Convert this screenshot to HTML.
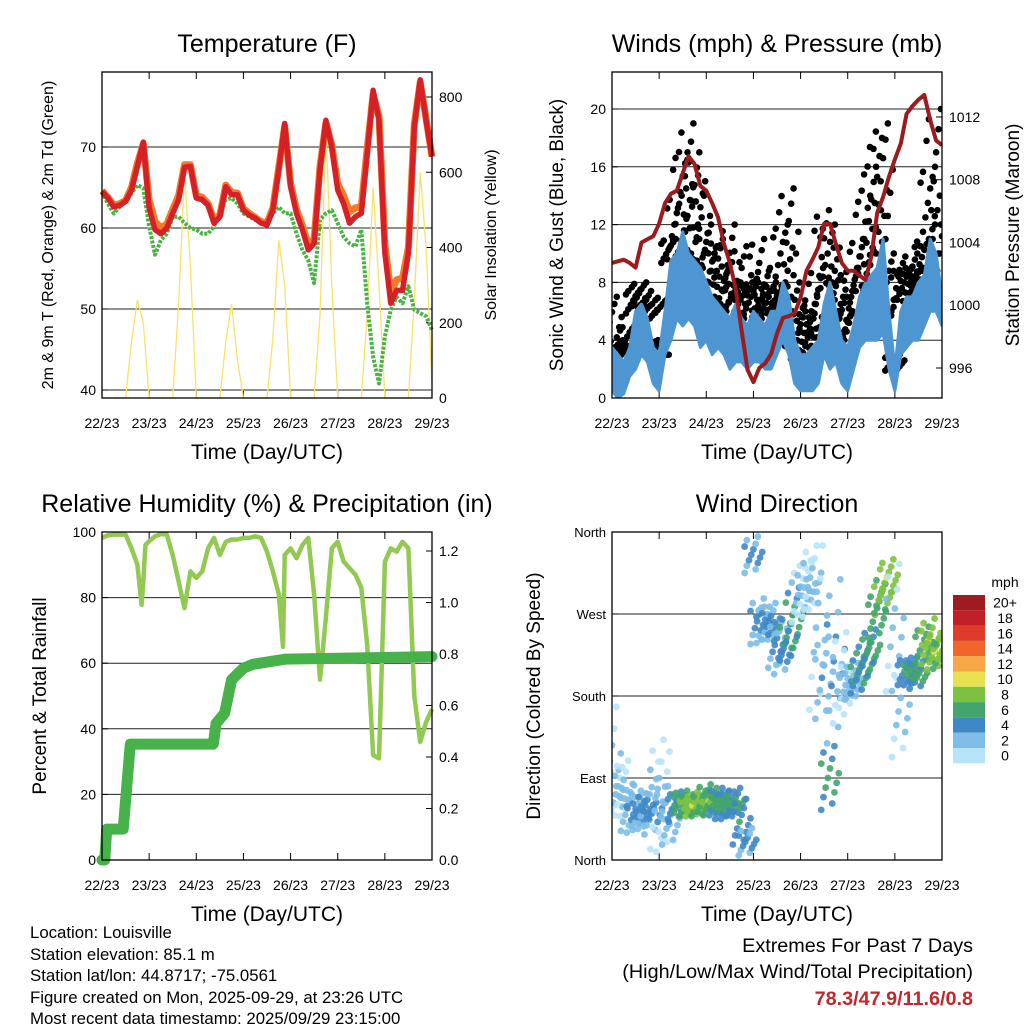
<!DOCTYPE html>
<html><head><meta charset="utf-8"><style>
html,body{margin:0;padding:0;background:#fff;}
svg{display:block;font-family:"Liberation Sans",Arial,sans-serif;}
</style></head><body>
<svg id="root" width="1024" height="1024" viewBox="0 0 1024 1024" xmlns="http://www.w3.org/2000/svg">
<rect width="1024" height="1024" fill="#fff"/>
<g id="p1"></g>
<g id="p2"></g>
<g id="p3"></g>
<g id="p4"></g>
<g font-size="16.8" fill="#000">
<text x="30" y="938">Location: Louisville</text>
<text x="30" y="960">Station elevation: 85.1 m</text>
<text x="30" y="981">Station lat/lon: 44.8717; -75.0561</text>
<text x="30" y="1003">Figure created on Mon, 2025-09-29, at 23:26 UTC</text>
<text x="30" y="1024">Most recent data timestamp: 2025/09/29 23:15:00</text>
</g>
<g text-anchor="end" font-size="19.8">
<text x="973" y="952">Extremes For Past 7 Days</text>
<text x="973" y="978">(High/Low/Max Wind/Total Precipitation)</text>
<text x="973" y="1005" font-weight="bold" fill="#c1272d">78.3/47.9/11.6/0.8</text>
</g>
</svg>
<script>
// ---- shared time grid (days since 22/23) ----
const dayLabels = ["22/23","23/23","24/23","25/23","26/23","27/23","28/23","29/23"];
const t3 = [0,0.125,0.25,0.375,0.5,0.625,0.75,0.875,1,1.125,1.25,1.375,1.5,1.625,1.75,1.875,2,2.125,2.25,2.375,2.5,2.625,2.75,2.875,3,3.125,3.25,3.375,3.5,3.625,3.75,3.875,4,4.125,4.25,4.375,4.5,4.625,4.75,4.875,5,5.125,5.25,5.375,5.5,5.625,5.75,5.875,6,6.125,6.25,6.375,6.5,6.625,6.75,6.875,7];
// ---- temperature ----
const tempRed = [64.5,63.7,62.6,62.8,63.3,64.7,67.6,70.6,62.5,59.8,59.3,60,61.8,63.5,67.5,67.6,63.7,63.5,62.8,60.6,61.4,65.1,64.1,64.1,62.2,61.6,61.2,60.6,60.4,62.2,67.2,72.9,65.1,61.8,59.8,57.3,58.1,67.2,73.3,70,64.7,63,60.6,61.4,61.8,69.2,77,73.3,56.9,50.7,52.3,52.3,56.9,72.5,78.3,73.3,68.8];
const tempOrange = [64.6,63.8,62.8,63,63.4,65,68,70.4,63.5,60.8,60,60.5,62.3,64,67.8,67.8,64,63.8,63,61,61.6,65.3,64.4,64.3,62.4,61.8,61.3,60.8,60.6,62.5,67.5,72.6,65.5,62.3,60.3,58,58.6,67.6,73,70.3,65.5,64,62,62.5,62.6,69.8,76.5,73.8,58,52,53.6,53.8,57.6,72.8,78,73.5,68.8];
const tempDew = [64.5,63,61.8,62.6,63.3,64.3,65.3,64.9,60.2,56.7,58.5,59.3,61.4,61.4,60.6,60,59.8,59.3,59.3,60.2,62.2,63.5,63.7,63,61.8,61.4,61,60.6,60.4,61.8,62.6,61.8,61.8,59.3,57.3,56,53.2,61,61.8,62.2,60.6,58.9,58.1,57.7,59.8,50.7,44.1,40.8,46.6,49.9,51.5,50.7,52.8,49.9,49.5,49.1,47.4];
const solar = [0,0,0,0,0,150,260,200,0,0,0,0,0,250,600,350,0,0,0,0,0,150,250,100,0,0,0,0,0,160,420,300,0,0,0,0,0,220,720,300,0,0,0,0,0,220,560,300,0,0,0,0,0,260,600,400,40];
const tempTicks = [40,50,60,70];
const solarTicks = [0,200,400,600,800];
// ---- winds ----
const windLo = [0.5,0,0.3,1.5,2,3,2.5,1,0.5,3,4,5.5,5,5.5,5,3.5,4,3,3.5,3,2,2.5,2.5,2,2.5,2.5,2,2,3,4,3,1,0.5,0.5,0.5,1,3,2,2.5,1,0.5,2,3.5,4,4,4,4.5,2,0.5,3,3.5,4,4,5,6,6,5];
const windHi = [3.5,3,2.5,3.5,6,6.5,5.5,3.5,3,6,9.5,10,11.5,10,9.5,9,8,7,6.5,6,5.5,6.5,5.5,5,6,5.5,5,6,6,8,7,4,3,3,3.5,4,6.5,8,6,4,3.5,5,7,8,8.5,9,11,6,2,6,7,7,8,8.5,11,10,7];
const gust = [7,4,3.5,5,7.5,8,6.5,4,3,7,11,14,17,19,17,15,12,10.5,11,9,12,8,10.5,8,8,11,9,8,7.5,12,14.5,8,6,6,7,9,13,12,8.5,7,6,9,11,14,16,18,19,10,3,9,9,10,9,11,16,20,13];
const pressure = [1002.7,1002.8,1002.9,1002.7,1002.4,1004,1004.2,1004.4,1005.2,1006.5,1007.1,1007.3,1008.4,1009.5,1009,1007.6,1007.3,1006.5,1005.6,1003.9,1002.7,1001,998.4,995.9,995.1,996,996.3,996.9,998.2,999.2,999.3,999.5,1000.5,1002.2,1002.9,1003.7,1005.2,1005.2,1003.9,1002.7,1002.2,1002.2,1001.9,1001.6,1003.1,1005.9,1006.9,1008.2,1009.3,1010.3,1012.2,1012.7,1013.1,1013.4,1011.8,1010.5,1010.2];
const windTicks = [0,4,8,12,16,20];
const presTicks = [996,1000,1004,1008,1012];
// ---- humidity / precip ----
const rhTimes = [0,0.125,0.25,0.375,0.5,0.625,0.75,0.84,0.875,0.92,1,1.125,1.25,1.375,1.5,1.625,1.75,1.875,2,2.125,2.25,2.375,2.5,2.625,2.75,2.875,3,3.125,3.25,3.375,3.5,3.625,3.75,3.84,3.875,4,4.125,4.25,4.375,4.5,4.625,4.75,4.875,5,5.125,5.25,5.375,5.5,5.625,5.75,5.875,6,6.125,6.25,6.375,6.5,6.625,6.75,6.875,7];
const rhValues = [98.2,99,99.2,99.2,99.2,95,90,77.8,85,96,97.2,98.7,99.4,99.2,93,85,76.8,88,86,88,95,98.2,93,97,97.7,97.7,98.2,98.2,98.7,98.2,94,88,81,65,93,95,92,96,98.2,81,55,74,95,97,91,89,87,83,65.6,32,31,91,95,94,97,95,50,36,42,46];
const precipTimes = [0,0.06,0.1,0.45,0.6,2.36,2.42,2.6,2.75,3.0,3.2,3.9,7];
const precipValues = [0,0,0.12,0.12,0.45,0.45,0.53,0.57,0.7,0.745,0.76,0.78,0.79];
const rhTicks = [0,20,40,60,80,100];
const precipTicks = [0,0.2,0.4,0.6,0.8,1.0,1.2];
// ---- wind direction ----
const dirValues = [108,72,79,57,50,53,60,53,72,64,42,60,64,60,60,60,68,64,64,60,60,64,42,20,335,262,258,262,236,229,244,269,291,299,310,255,200,90,218,200,192,196,203,218,233,269,291,310,255,163,207,207,203,236,240,229,225];
const dirSpread = [60,30,30,25,20,20,20,25,60,55,25,15,12,12,12,12,15,15,15,15,15,15,25,15,20,25,20,20,25,25,25,30,30,30,35,90,45,35,90,50,25,20,20,20,20,25,20,20,70,50,15,15,15,20,25,20,15];
const dirSpeed = [2,2,2,3,4,4,4,4,2,2,3,5,7,8,9,8,8,7,6,6,6,6,5,4,4,4,4,4,4,4,6,6,2,2,2,2,3,6,4,2,2,3,6,6,6,7,8,9,2,2,5,6,6,7,9,9,8];
const dirTicks = ["North","East","South","West","North"];
const speedBins = ["0","2","4","6","8","10","12","14","16","18","20+"];
const speedColors = ["#b9e3f8","#7dbde7","#3f88c5","#44a56c","#7dc142","#e8e04e","#f7a744","#f0652a","#e03a2b","#c11f26","#9e1b1f"];

const NS="http://www.w3.org/2000/svg";
function el(parent,tag,attrs){const e=document.createElementNS(NS,tag);for(const k in attrs)e.setAttribute(k,attrs[k]);parent.appendChild(e);return e;}
function txt(parent,x,y,s,size,anchor,rot){const e=el(parent,"text",{x:x,y:y,"font-size":size,"text-anchor":anchor||"middle"});if(rot)e.setAttribute("transform","rotate(-90 "+x+" "+y+")");e.textContent=s;return e;}

function frame(g,L,T,R,B,title){
  const xs=d=>L+(R-L)*d/7;
  let t=txt(g,(L+R)/2,T-20,title,25);
  
  
  t=txt(g,(L+R)/2,B+61,"Time (Day/UTC)",21);
  
  
  dayLabels.forEach((s,i)=>{
    const tl=txt(g,xs(i),B+30,s,14);
    
    
    el(g,"line",{x1:xs(i),x2:xs(i),y1:B,y2:B-7,stroke:"#000","stroke-width":1});
    el(g,"line",{x1:xs(i),x2:xs(i),y1:T,y2:T+7,stroke:"#000","stroke-width":1});
  });
  return xs;
}
function border(g,L,T,R,B){const r=el(g,"rect",{x:L,y:T,width:R-L,height:B-T,fill:"none",stroke:"#000","stroke-width":1.3});}
function path(xs,ys,ts,vs){return ts.map((t,i)=>(i?"L":"M")+xs(t).toFixed(1)+","+ys(vs[i]).toFixed(1)).join(" ");}
function leftTicks(g,L,R,vals,ys,labels,grid,size){vals.forEach((v,i)=>{const y=ys(v);if(grid)el(g,"line",{x1:L,x2:R,y1:y,y2:y,stroke:"#222","stroke-width":1});el(g,"line",{x1:L,x2:L+6,y1:y,y2:y,stroke:"#000"});const tl=txt(g,L-6,y+5,labels?labels[i]:v,size||14,"end");});}
function rightTicks(g,R,vals,ys,fmt){vals.forEach(v=>{const y=ys(v);el(g,"line",{x1:R,x2:R-6,y1:y,y2:y,stroke:"#000"});const tl=txt(g,R+7,y+5,fmt?fmt(v):v,14,"start");});}

// ===== Panel 1: temperature =====
(function(){
  const g=document.getElementById("p1");const L=102,T=72,R=432,B=398;
  const xs=frame(g,L,T,R,B,"Temperature (F)");
  const yT=v=>390-8.1*(v-40), yS=v=>398-v*75.25/200;
  leftTicks(g,L,R,tempTicks,yT,null,true);
  rightTicks(g,R,solarTicks,yS);
  let p=el(g,"path",{d:path(xs,yS,t3,solar),fill:"none",stroke:"#f7e36a","stroke-width":1.3});
  
  p=el(g,"path",{d:path(xs,yT,t3,tempDew),fill:"none",stroke:"#4bb343","stroke-width":4,"stroke-linejoin":"round","stroke-dasharray":"3 1.5"});
  
  p=el(g,"path",{d:path(xs,yT,t3,tempOrange),fill:"none",stroke:"#f47a2a","stroke-width":7,"stroke-linejoin":"round"});
  
  p=el(g,"path",{d:path(xs,yT,t3,tempRed),fill:"none",stroke:"#d62027","stroke-width":5.5,"stroke-linejoin":"round"});
  
  border(g,L,T,R,B);
  let t=txt(g,53,235,"2m & 9m T (Red, Orange) & 2m Td (Green)",16,"middle",true);
  
  t=txt(g,496,235,"Solar Insolation (Yellow)",16,"middle",true);
  
})();

// ===== Panel 2: winds =====
(function(){
  const g=document.getElementById("p2");const L=612,T=72,R=942,B=398;
  const xs=frame(g,L,T,R,B,"Winds (mph) & Pressure (mb)");
  const yW=v=>398-v*14.45, yP=v=>368-(v-996)*15.69;
  leftTicks(g,L,R,windTicks,yW,null,true);
  rightTicks(g,R,presTicks,yP);
  el(el(g,"clipPath",{id:"clip2"}),"rect",{x:L,y:T,width:R-L,height:B-T});
  const cg=el(g,"g",{});cg.setAttribute("clip-path","url(#clip2)");
  const fr=[-0.1,0,0.1,0.2,0.3,0.4,0.5,0.6,0.7,0.78,0.86,0.93,1];
  t3.forEach((t,i)=>{
    fr.forEach((f,j)=>{
      const v=windHi[i]+(gust[i]-windHi[i])*f;
      const dx=((j*5)%9-4)*2.4;
      const c=el(cg,"circle",{cx:xs(t)+dx,cy:yW(v),r:3.3,fill:"#000"});
      
      
    });
  });
  let d=path(xs,yW,t3,windHi)+" "+t3.slice().reverse().map((t,i)=>"L"+xs(t).toFixed(1)+","+yW(windLo[t3.length-1-i]).toFixed(1)).join(" ")+"Z";
  let p=el(cg,"path",{d:d,fill:"#4e96d2",stroke:"#4e96d2","stroke-width":3,"stroke-linejoin":"round"});
  
  p=el(cg,"path",{d:path(xs,yP,t3,pressure),fill:"none",stroke:"#9b1b1e","stroke-width":4,"stroke-linejoin":"round"});
  
  border(g,L,T,R,B);
  let t=txt(g,563,235,"Sonic Wind & Gust (Blue, Black)",19,"middle",true);
  
  t=txt(g,1019,235,"Station Pressure (Maroon)",19,"middle",true);
  
})();

// ===== Panel 3: RH & precip =====
(function(){
  const g=document.getElementById("p3");const L=102,T=532,R=432,B=860;
  const xs=frame(g,L,T,R,B,"Relative Humidity (%) & Precipitation (in)");
  const yH=v=>860-v*3.28, yQ=v=>860-v*257.5;
  leftTicks(g,L,R,rhTicks,yH,null,true);
  rightTicks(g,R,precipTicks,yQ,v=>v.toFixed(1));
  let p=el(g,"path",{d:path(xs,yH,rhTimes,rhValues),fill:"none",stroke:"#92c952","stroke-width":4.5,"stroke-linejoin":"round"});
  
  p=el(g,"path",{d:path(xs,yQ,precipTimes,precipValues),fill:"none",stroke:"#47b14a","stroke-width":11,"stroke-linejoin":"round","stroke-linecap":"round"});
  
  border(g,L,T,R,B);
  const t=txt(g,46,696,"Percent & Total Rainfall",19,"middle",true);
  
})();

// ===== Panel 4: wind direction =====
(function(){
  const g=document.getElementById("p4");const L=612,T=532,R=942,B=860;
  const xs=frame(g,L,T,R,B,"Wind Direction");
  const yD=v=>860-v*0.9111;
  leftTicks(g,L,R,[0,90,180,270,360],yD,dirTicks,true,13);
  el(el(g,"clipPath",{id:"clip4"}),"rect",{x:L,y:T,width:R-L,height:B-T});
  const cg=el(g,"g",{});cg.setAttribute("clip-path","url(#clip4)");
  const offs=[-1,-0.8,-0.6,-0.45,-0.3,-0.15,0,0.15,0.3,0.45,0.6,0.8,1];
  t3.forEach((t,i)=>{
    offs.forEach((o,j)=>{
      let v=dirValues[i]+o*dirSpread[i];
      if(v<0)v+=360; if(v>360)v-=360;
      const sp=Math.max(0,dirSpeed[i]-Math.abs(o)*2);
      const dx=((j*5)%9-4)*2.2;
      const c=el(cg,"circle",{cx:xs(t)+dx,cy:yD(v),r:3.4,fill:speedColors[Math.min(10,Math.round(sp/2))],opacity:0.9});
      
      
    });
  });
  border(g,L,T,R,B);
  const t=txt(g,540,696,"Direction (Colored By Speed)",19,"middle",true);
  
  const cb=el(g,"g",{});
  
  
  const lt=txt(cb,1005,587,"mph",14);
  
  const h=15.3;
  speedBins.forEach((s,i)=>{
    const k=10-i;const y=595+i*h;
    const r=el(cb,"rect",{x:953,y:y,width:32,height:h,fill:speedColors[k]});
    
    const tl=txt(cb,1005,y+h/2+5,speedBins[k],14);
    
  });
})();
</script>
</body></html>
